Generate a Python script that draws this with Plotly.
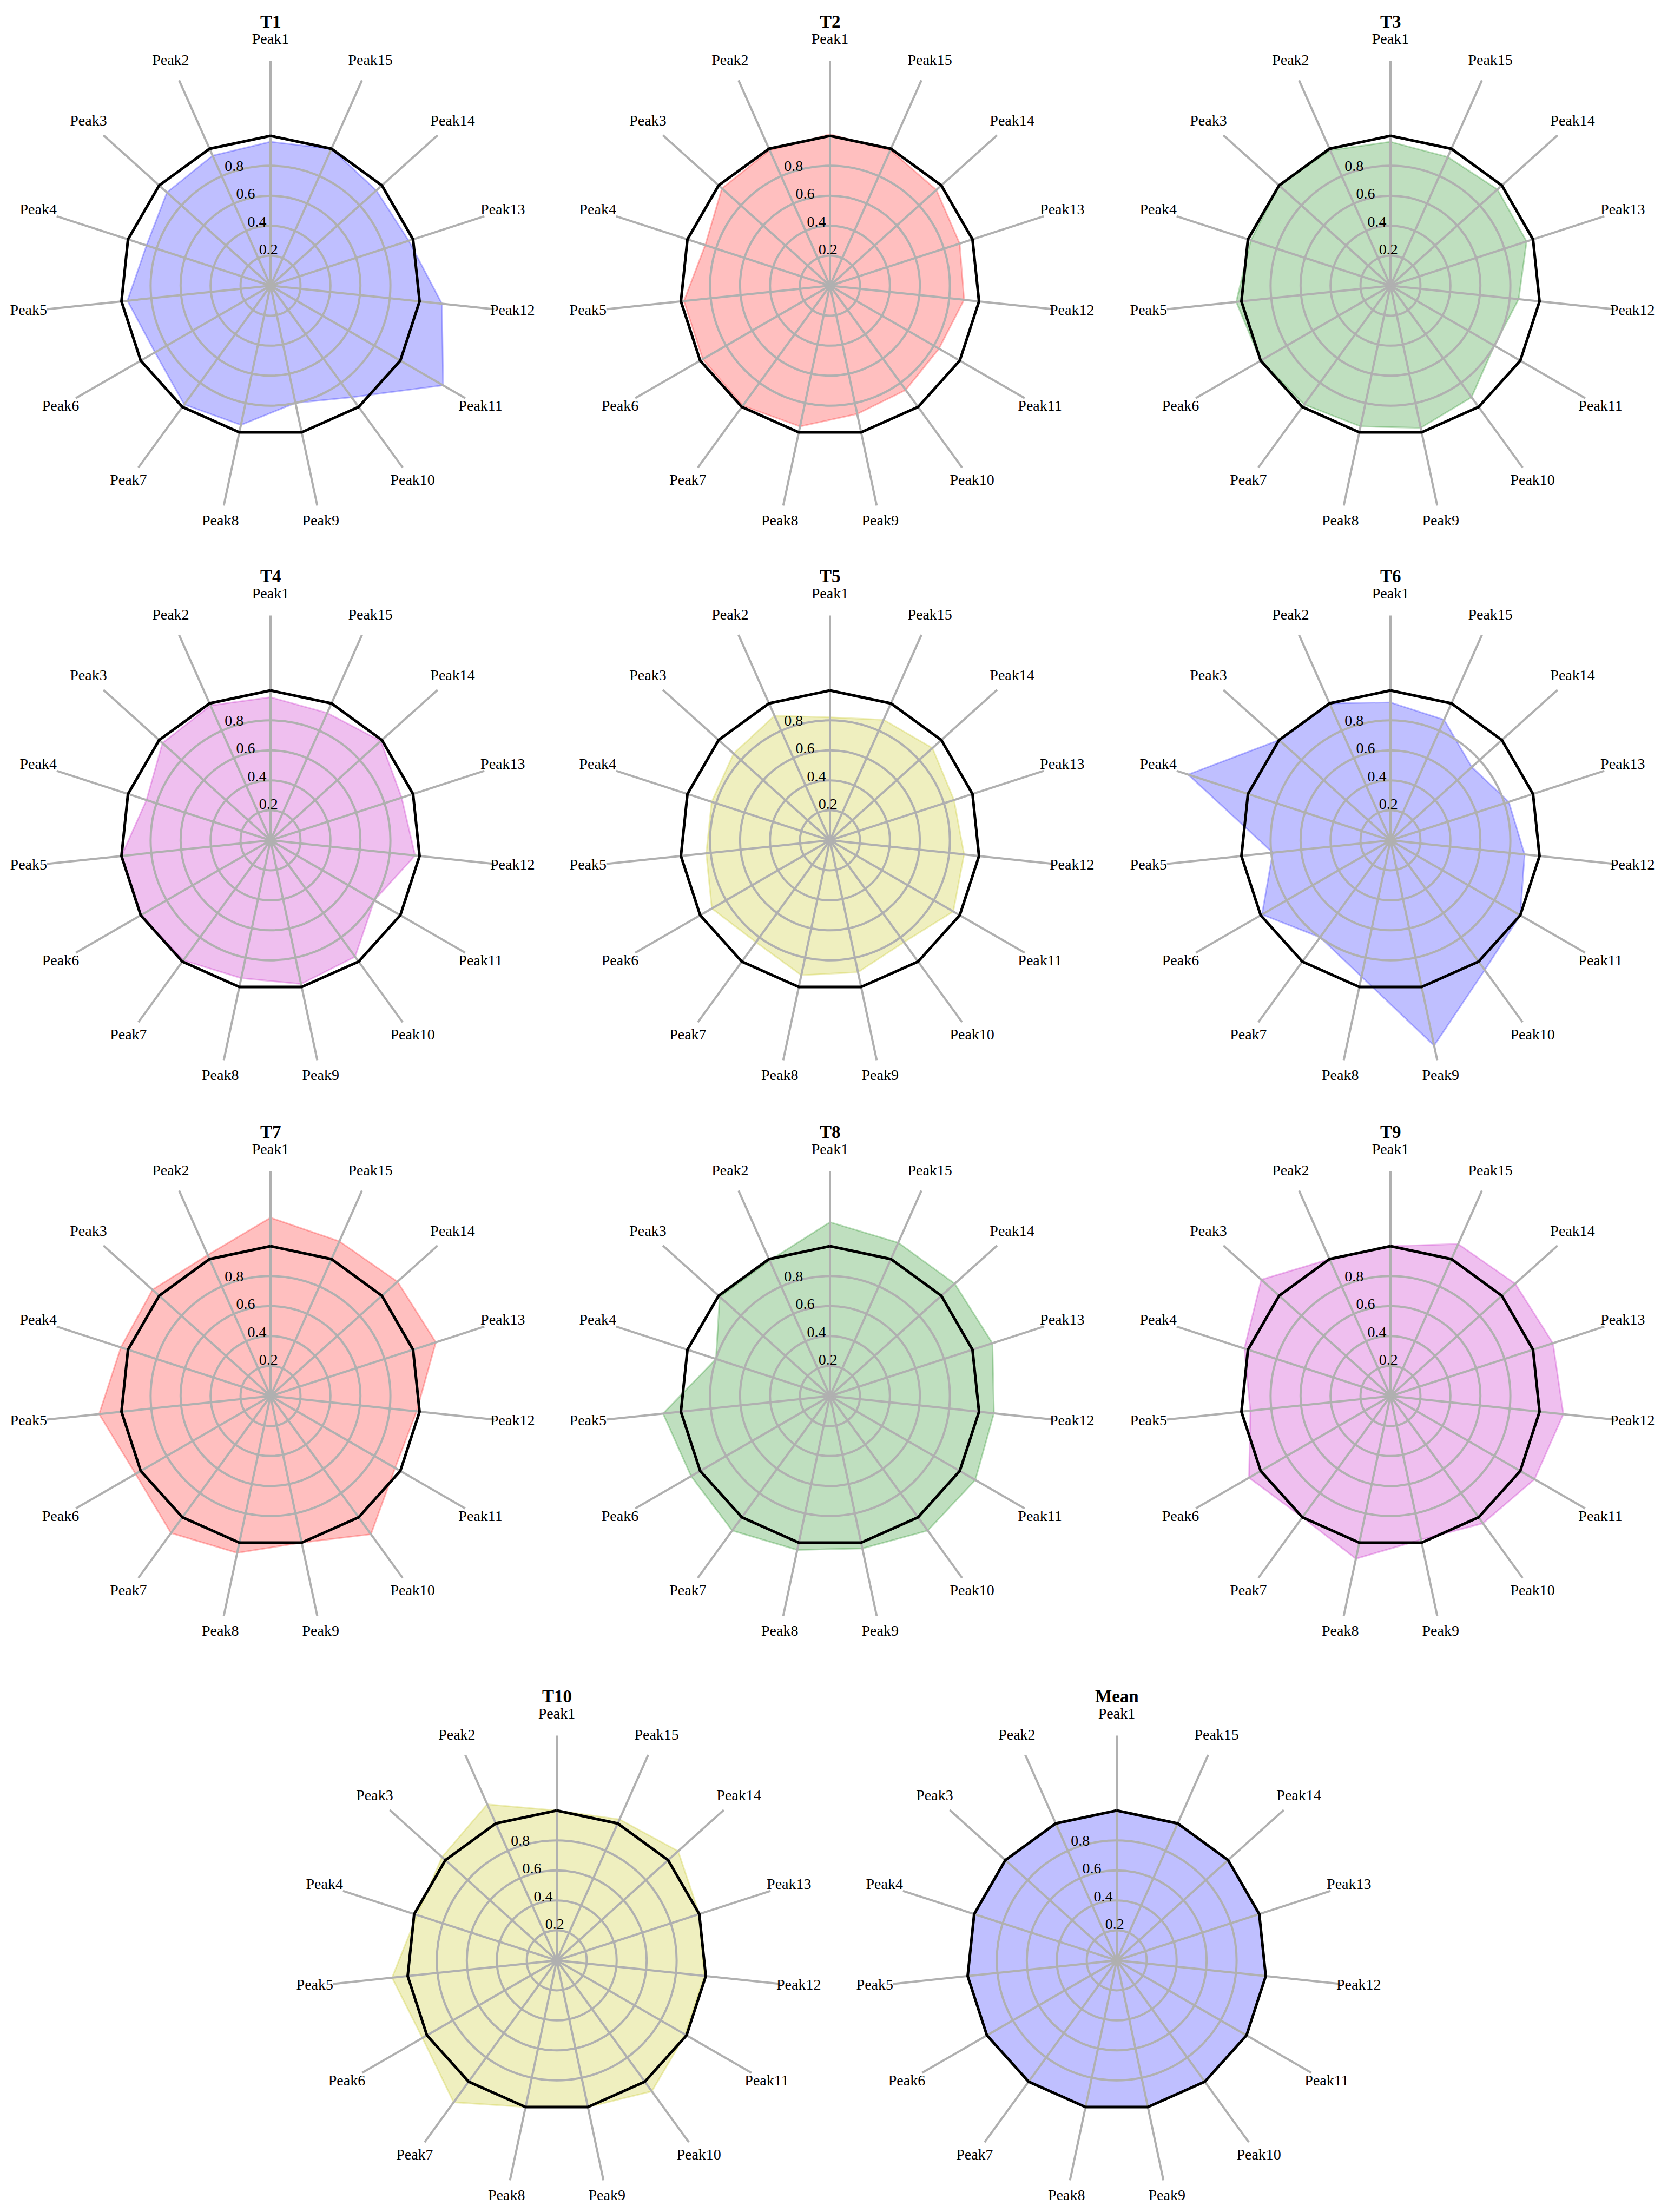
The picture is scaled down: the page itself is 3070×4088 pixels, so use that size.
import math
import plotly.graph_objects as go

# ---------------- data ----------------
peaks = [f"Peak{i}" for i in range(1, 16)]
titles = ["T1", "T2", "T3", "T4", "T5", "T6", "T7", "T8", "T9", "T10", "Mean"]

t1 = [0.96, 0.95, 0.93, 0.87, 0.96, 0.89, 0.98, 0.95, 0.80, 0.92, 1.33, 1.15, 0.97, 0.95, 1.00]
t2 = [1.01, 0.99, 0.97, 0.875, 0.98, 0.98, 0.99, 0.96, 0.875, 0.86, 0.84, 0.90, 0.91, 0.955, 0.99]
t3 = [0.96, 0.99, 1.00, 0.98, 1.035, 1.00, 0.98, 0.96, 0.97, 0.92, 0.80, 0.86, 0.955, 0.96, 0.94]
t4 = [0.955, 0.985, 0.97, 0.87, 1.00, 1.00, 0.99, 0.94, 0.98, 0.96, 0.80, 0.97, 0.92, 0.99, 0.93]
t5 = [0.82, 0.91, 0.865, 0.83, 0.83, 0.91, 0.84, 0.92, 0.90, 0.84, 0.95, 0.90, 0.87, 0.92, 0.88]
t6 = [0.92, 1.00, 1.00, 1.42, 0.79, 0.99, 0.80, 0.93, 1.40, 1.07, 1.00, 0.90, 0.83, 0.73, 0.88]
t7 = [1.19, 1.03, 1.06, 1.05, 1.15, 1.04, 1.13, 1.07, 1.00, 1.14, 0.96, 0.98, 1.16, 1.14, 1.13]
t8 = [1.16, 0.99, 0.99, 0.80, 1.12, 1.07, 1.11, 1.05, 1.04, 1.11, 1.12, 1.10, 1.14, 1.12, 1.12]
t9 = [1.00, 1.00, 1.16, 1.025, 0.94, 1.09, 1.00, 1.11, 0.98, 1.05, 1.11, 1.16, 1.14, 1.12, 1.11]
t10 = [1.00, 1.14, 1.03, 0.98, 1.105, 1.035, 1.17, 1.00, 1.00, 1.08, 0.99, 0.99, 1.00, 1.09, 1.03]
mean_vals = [1.00] * 15
mean_ref = [1.00] * 15  # black reference polygon

series = [t1, t2, t3, t4, t5, t6, t7, t8, t9, t10, mean_vals]
colors = [(0, 0, 255), (255, 0, 0), (0, 128, 0), (191, 0, 191), (191, 191, 0),
          (0, 0, 255), (255, 0, 0), (0, 128, 0), (191, 0, 191), (191, 191, 0),
          (0, 0, 255)]
radial_ticks = [0.2, 0.4, 0.6, 0.8]
radial_max = 1.5
label_max = 1.7  # outer range of the overlay that carries the text

# ---------------- layout geometry ----------------
W, H = 3070, 4088
PX_PER_UNIT = 277.0
RPX = radial_max * PX_PER_UNIT
RPX_L = label_max * PX_PER_UNIT
centers = [(492, 520), (1526, 520), (2562, 520),
           (492, 1545), (1526, 1545), (2562, 1545),
           (492, 2572), (1526, 2572), (2562, 2572),
           (1021, 3615), (2056, 3615)]
FONT = "Liberation Serif, Times New Roman, serif"
GRID = "#b0b0b0"

n = len(peaks)
theta = [i * 360.0 / n for i in range(n)]
theta_closed = theta + [theta[0]]

# angular label radius (matplotlib-like placement, centred text)
lab_r = [1.625 + 0.015 * math.cos(math.radians(t)) for t in theta]


def dom(cx, cy, rp):
    return dict(x=[(cx - rp) / W, (cx + rp) / W],
                y=[1 - (cy + rp) / H, 1 - (cy - rp) / H])


def bare_polar(d, rmax, grid):
    return dict(
        domain=d, bgcolor="rgba(0,0,0,0)",
        angularaxis=dict(type="linear", rotation=90, direction="counterclockwise",
                         tickmode="array", tickvals=theta, showticklabels=False,
                         ticks="", showline=False, showgrid=grid,
                         gridcolor=GRID, gridwidth=3.5),
        radialaxis=dict(range=[0, rmax], tickmode="array", tickvals=radial_ticks,
                        showticklabels=False, ticks="", showline=False, showgrid=grid,
                        gridcolor=GRID, gridwidth=3.5),
    )


fig = go.Figure()
layout_upd = {}
annotations = []

for i, (vals, title, col, (cx, cy)) in enumerate(zip(series, titles, colors, centers)):
    ida, idb, idc = 3 * i + 1, 3 * i + 2, 3 * i + 3
    pa = "polar" if ida == 1 else f"polar{ida}"
    pb = f"polar{idb}"
    pc = f"polar{idc}"
    layout_upd[pa] = bare_polar(dom(cx, cy, RPX), radial_max, False)   # fill
    layout_upd[pb] = bare_polar(dom(cx, cy, RPX), radial_max, True)    # grid
    layout_upd[pc] = bare_polar(dom(cx, cy, RPX_L), label_max, False)  # line + text

    rgb = f"{col[0]},{col[1]},{col[2]}"
    # filled series
    fig.add_trace(go.Scatterpolar(
        r=vals + [vals[0]], theta=theta_closed, mode="lines", fill="toself",
        fillcolor=f"rgba({rgb},0.25)", line=dict(color=f"rgba({rgb},0.25)", width=3),
        subplot=pa, hoverinfo="skip", showlegend=False))
    # invisible trace so the grid overlay is rendered
    fig.add_trace(go.Scatterpolar(
        r=[0], theta=[0], mode="markers", marker=dict(size=0.1, color="rgba(0,0,0,0)"),
        subplot=pb, hoverinfo="skip", showlegend=False))
    # black reference
    fig.add_trace(go.Scatterpolar(
        r=mean_ref + [mean_ref[0]], theta=theta_closed, mode="lines",
        line=dict(color="black", width=5), subplot=pc, hoverinfo="skip",
        showlegend=False))
    # radial tick labels
    fig.add_trace(go.Scatterpolar(
        r=radial_ticks, theta=[22.5] * len(radial_ticks), mode="text",
        text=[f"{v:.1f}" for v in radial_ticks], textposition="top right",
        textfont=dict(family=FONT, size=28, color="black"),
        subplot=pc, hoverinfo="skip", showlegend=False, cliponaxis=False))
    # angular category labels
    fig.add_trace(go.Scatterpolar(
        r=lab_r, theta=theta, mode="text", text=peaks, textposition="middle center",
        textfont=dict(family=FONT, size=28, color="black"),
        subplot=pc, hoverinfo="skip", showlegend=False, cliponaxis=False))
    annotations.append(dict(
        text=f"<b>{title}</b>", x=cx / W, y=1 - (cy - 488) / H, xref="paper", yref="paper",
        xanchor="center", yanchor="middle", showarrow=False,
        font=dict(family=FONT, size=33, color="black")))

fig.update_layout(**layout_upd)
fig.update_layout(
    width=W, height=H, margin=dict(l=0, r=0, t=0, b=0),
    paper_bgcolor="white", plot_bgcolor="white", showlegend=False,
    annotations=annotations, font=dict(family=FONT, size=28, color="black"))

fig.write_html("out.html")
